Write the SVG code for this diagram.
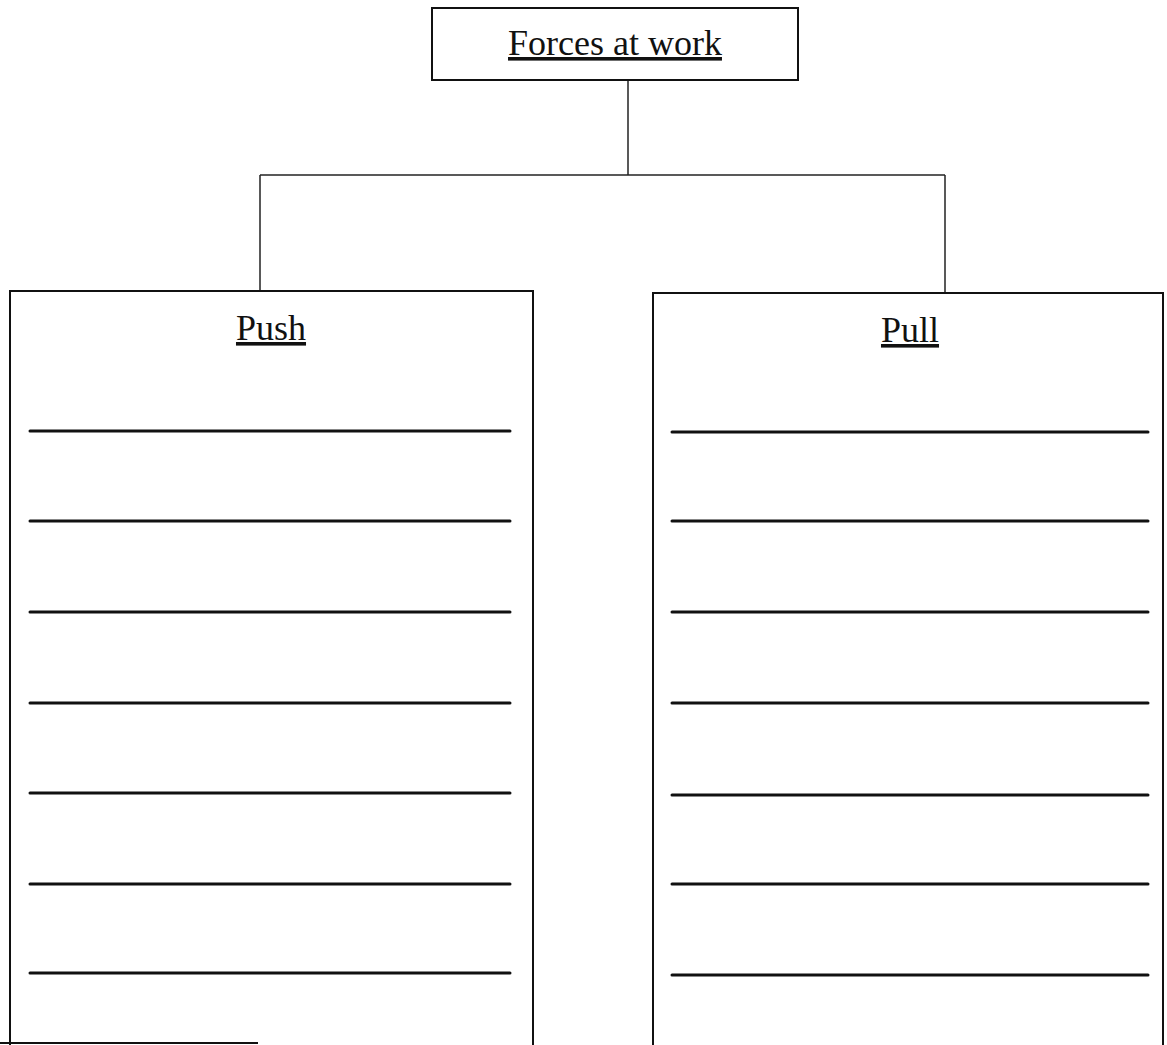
<svg xmlns="http://www.w3.org/2000/svg" width="1167" height="1045" viewBox="0 0 1167 1045">
<style>
.box{fill:none;stroke:#111;stroke-width:2}
.conn{fill:none;stroke:#222;stroke-width:1.5}
.rule{stroke:#111;stroke-width:3;stroke-linecap:round}
.t{font-family:"Liberation Serif","Times New Roman",serif;fill:#111;text-anchor:middle;text-decoration:underline}
</style>
<rect width="1167" height="1045" fill="#fff"/>
<g id="connectors">
<path class="conn" d="M628 80 V175"/>
<path class="conn" d="M260 175 H945"/>
<path class="conn" d="M260 175 V291"/>
<path class="conn" d="M945 175 V293"/>
</g>
<g id="title">
<rect class="box" x="432" y="8" width="366" height="72"/>
<text class="t" x="615" y="55" font-size="36">Forces at work</text>
</g>
<g id="push">
<path class="box" d="M10 1045 V291 H533 V1045"/>
<path class="box" d="M0 1043 H258"/>
<text class="t" x="271" y="340" font-size="36">Push</text>
<g class="rule">
<line x1="30" y1="431" x2="510" y2="431"/>
<line x1="30" y1="521" x2="510" y2="521"/>
<line x1="30" y1="612" x2="510" y2="612"/>
<line x1="30" y1="703" x2="510" y2="703"/>
<line x1="30" y1="793" x2="510" y2="793"/>
<line x1="30" y1="884" x2="510" y2="884"/>
<line x1="30" y1="973" x2="510" y2="973"/>
</g>
</g>
<g id="pull">
<path class="box" d="M653 1045 V293 H1163 V1045"/>
<text class="t" x="910" y="342" font-size="36">Pull</text>
<g class="rule">
<line x1="672" y1="432" x2="1148" y2="432"/>
<line x1="672" y1="521" x2="1148" y2="521"/>
<line x1="672" y1="612" x2="1148" y2="612"/>
<line x1="672" y1="703" x2="1148" y2="703"/>
<line x1="672" y1="795" x2="1148" y2="795"/>
<line x1="672" y1="884" x2="1148" y2="884"/>
<line x1="672" y1="975" x2="1148" y2="975"/>
</g>
</g>
</svg>
